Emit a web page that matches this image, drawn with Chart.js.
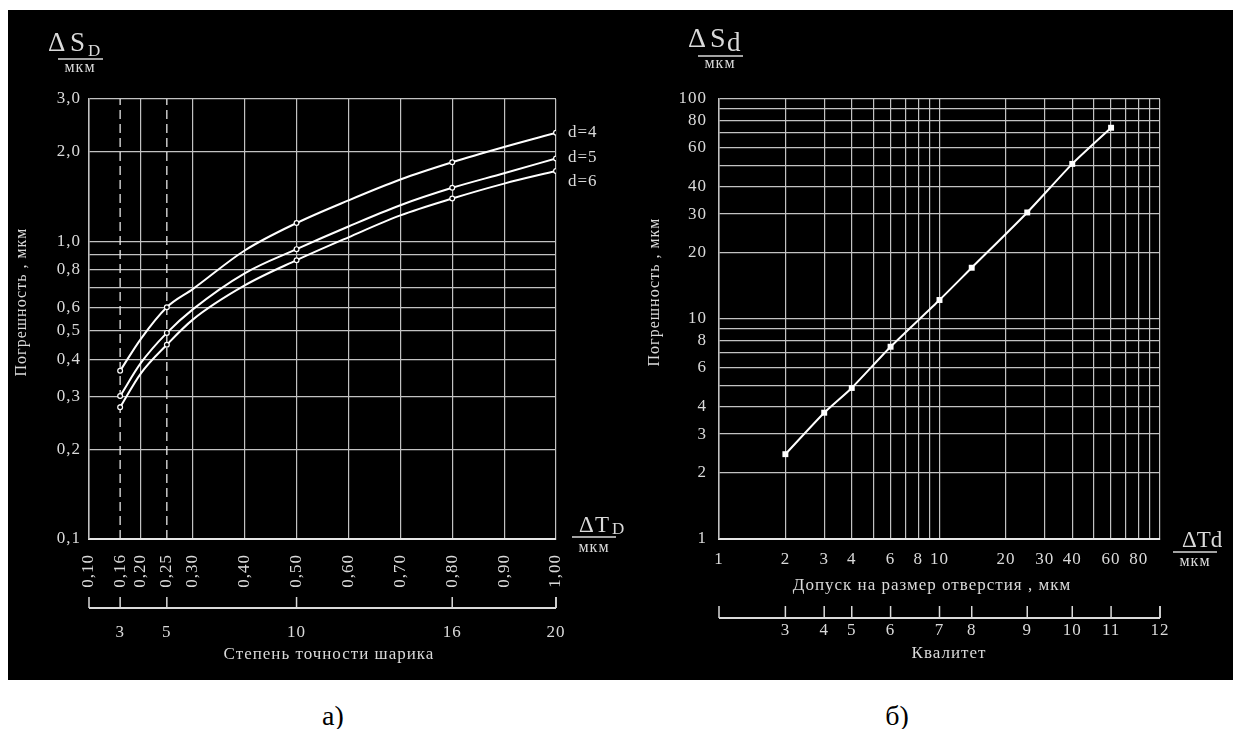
<!DOCTYPE html>
<html>
<head>
<meta charset="utf-8">
<script src="https://cdn.jsdelivr.net/npm/chart.js@4.4.1/dist/chart.umd.min.js"></script>
<style>
html, body { margin: 0; padding: 0; background: #fff; }
body { width: 1241px; height: 729px; position: relative; overflow: hidden; }
#panel { position: absolute; left: 8px; top: 10px; width: 1225px; height: 670px; background: #000; }
#cA { position: absolute; left: 8px; top: 10px; }
#cB { position: absolute; left: 620px; top: 10px; }
.cap { position: absolute; top: 700px; width: 60px; text-align: center; line-height: 28px;
       font: 28px 'Liberation Serif', serif; color: #000; }
</style>
</head>
<body>
<div id="panel"></div>
<canvas id="cA" width="650" height="670"></canvas>
<canvas id="cB" width="613" height="670"></canvas>
<div class="cap" style="left:303px">а)</div>
<div class="cap" style="left:867px">б)</div>
<script>
// --- chart а): error vs ball tolerance ---
const xD = [0.16, 0.20, 0.25, 0.30, 0.40, 0.50, 0.60, 0.70, 0.80, 0.90, 1.00];
const markD = [0.16, 0.25, 0.50, 0.80, 1.00];
const sD4 = [0.367, 0.47, 0.60, 0.69, 0.93, 1.15, 1.37, 1.61, 1.84, 2.07, 2.31];
const sD5 = [0.302, 0.39, 0.492, 0.59, 0.78, 0.94, 1.12, 1.32, 1.51, 1.69, 1.895];
const sD6 = [0.277, 0.36, 0.449, 0.545, 0.71, 0.863, 1.03, 1.22, 1.39, 1.56, 1.72];
const curveNames = ['d=4', 'd=5', 'd=6'];
const dashX = [0.16, 0.25];
const xTicksA = [0.10, 0.16, 0.20, 0.25, 0.30, 0.40, 0.50, 0.60, 0.70, 0.80, 0.90, 1.00];
const yTicksA = [0.1, 0.2, 0.3, 0.4, 0.5, 0.6, 0.7, 0.8, 0.9, 1, 2, 3];
const yLabelsA = [0.1, 0.2, 0.3, 0.4, 0.5, 0.6, 0.8, 1, 2, 3];
const ballGrade = [0.16, 0.25, 0.50, 0.80, 1.00];
const ballGradeLbl = ['3', '5', '10', '16', '20'];

// --- chart б): error vs hole tolerance ---
const tolHole = [2, 3, 4, 6, 10, 14, 25, 40, 60];
const errHole = [2.43, 3.75, 4.86, 7.48, 12.2, 17.1, 30.5, 50.7, 74];
const logTicksB = [1, 2, 3, 4, 5, 6, 7, 8, 9, 10, 20, 30, 40, 50, 60, 70, 80, 90, 100];
const yLabelsB = [1, 2, 3, 4, 6, 8, 10, 20, 30, 40, 60, 80, 100];
const xLabelsB = [1, 2, 3, 4, 6, 8, 10, 20, 30, 40, 60, 80];
const holeGrade = [2, 3, 4, 6, 10, 14, 25, 40, 60, 100];
const holeGradeLbl = ['3', '4', '5', '6', '7', '8', '9', '10', '11', '12'];

const INK = '#dadada';
const GRID = '#c2c2c2';
const FAM = "'Liberation Serif', serif";

function put(ctx, s, x, y, size, align = 'left', base = 'alphabetic', sp = 1) {
	ctx.font = size + 'px ' + FAM;
	ctx.letterSpacing = sp + 'px';
	ctx.textAlign = align;
	ctx.textBaseline = base;
	ctx.fillText(s, x, y);
}

function hline(ctx, x1, x2, y, w) {
	ctx.lineWidth = w;
	ctx.beginPath();
	ctx.moveTo(x1, y);
	ctx.lineTo(x2, y);
	ctx.stroke();
}

// bracket axis under the chart: line with ticks pointing up
function bracket(ctx, xs, lbls, left, right, y, tickTop, lblY) {
	hline(ctx, left, right, y, 2);
	ctx.lineWidth = 1.5;
	[left, ...xs, right].forEach(px => {
		ctx.beginPath();
		ctx.moveTo(px, y);
		ctx.lineTo(px, tickTop);
		ctx.stroke();
	});
	xs.forEach((px, i) => put(ctx, lbls[i], px, lblY, 17, 'center', 'middle'));
}

function vtitle(ctx, s, x, y) {
	ctx.save();
	ctx.translate(x, y);
	ctx.rotate(-Math.PI / 2);
	put(ctx, s, 0, 0, 16, 'center', 'middle');
	ctx.restore();
}

const near = (list, v) => list.some(t => Math.abs(t - v) < 1e-9);
const tickFont = {family: FAM, size: 17};

const decorA = {
	id: 'decorA',
	beforeDraw(chart) {
		chart.ctx.letterSpacing = '1px';
	},
	afterDraw(chart) {
		const {ctx, chartArea: a} = chart;
		const x = chart.scales.x, y = chart.scales.y;
		ctx.save();
		ctx.fillStyle = INK;
		ctx.strokeStyle = INK;

		// заголовок ΔS_D / мкм
		put(ctx, 'Δ', 40, 41, 27, 'left', 'alphabetic', 0);
		put(ctx, 'S', 62, 41, 27, 'left', 'alphabetic', 0);
		put(ctx, 'D', 80, 46, 17, 'left', 'alphabetic', 0);
		hline(ctx, 50, 95, 49, 1.5);
		put(ctx, 'мкм', 72, 62, 16, 'center');

		// ΔT_D / мкм
		put(ctx, 'Δ', 571, 522, 23, 'left', 'alphabetic', 0);
		put(ctx, 'T', 587, 522, 23, 'left', 'alphabetic', 0);
		put(ctx, 'D', 604, 524, 17, 'left', 'alphabetic', 0);
		hline(ctx, 564, 608, 527, 1.5);
		put(ctx, 'мкм', 586, 542, 16, 'center');

		// подписи кривых
		const lastVals = [sD4, sD5, sD6].map(s => s[s.length - 1]);
		const shift = [0, -1, 11];
		lastVals.forEach((v, i) => put(ctx, curveNames[i], a.right + 12, y.getPixelForValue(v) + shift[i], 17, 'left', 'middle'));

		bracket(ctx, ballGrade.map(v => x.getPixelForValue(v)), ballGradeLbl, a.left, a.right, 598, 587, 623);
		put(ctx, 'Степень точности шарика', 321, 645, 17, 'center', 'middle');
		vtitle(ctx, 'Погрешность , мкм', 14, 292);
		ctx.restore();
	}
};

const decorB = {
	id: 'decorB',
	beforeDraw(chart) {
		chart.ctx.letterSpacing = '1px';
	},
	afterDraw(chart) {
		const {ctx, chartArea: a} = chart;
		const x = chart.scales.x;
		ctx.save();
		ctx.fillStyle = INK;
		ctx.strokeStyle = INK;

		put(ctx, 'Δ', 68, 37, 28, 'left', 'alphabetic', 0);
		put(ctx, 'S', 90, 37, 28, 'left', 'alphabetic', 0);
		put(ctx, 'd', 107, 41, 27, 'left', 'alphabetic', 0);
		hline(ctx, 78, 123, 46, 1.5);
		put(ctx, 'мкм', 100, 58, 16, 'center');

		put(ctx, 'ΔTd', 562, 537, 23, 'left', 'alphabetic', 0);
		hline(ctx, 553, 597, 542, 1.5);
		put(ctx, 'мкм', 575, 556, 16, 'center');

		put(ctx, 'Допуск на размер отверстия , мкм', 312, 576, 17, 'center', 'middle');
		bracket(ctx, holeGrade.map(v => x.getPixelForValue(v)), holeGradeLbl, a.left, a.right, 608, 596, 621);
		put(ctx, 'Квалитет', 329, 644, 17, 'center', 'middle');
		vtitle(ctx, 'Погрешность , мкм', 35, 282);
		ctx.restore();
	}
};

function curve(vals) {
	return {
		data: xD.map((v, i) => ({x: v, y: vals[i]})),
		borderColor: '#ffffff',
		borderWidth: 2,
		cubicInterpolationMode: 'monotone',
		pointStyle: 'circle',
		pointRadius: ctx => near(markD, xD[ctx.dataIndex]) ? 2.4 : 0,
		pointBorderColor: '#ffffff',
		pointBorderWidth: 1.2,
		pointBackgroundColor: '#000000',
		order: 0
	};
}

new Chart(document.getElementById('cA'), {
	type: 'line',
	data: {
		datasets: [
			...dashX.map(v => ({
				data: [{x: v, y: 0.1}, {x: v, y: 3}],
				borderColor: '#e6e6e6',
				borderWidth: 1.3,
				borderDash: [9, 5],
				pointRadius: 0,
				order: 5
			})),
			curve(sD4), curve(sD5), curve(sD6)
		]
	},
	options: {
		responsive: false,
		animation: false,
		events: [],
		layout: {padding: {left: 0, right: 102, top: 89, bottom: 0}},
		plugins: {legend: {display: false}, tooltip: {enabled: false}},
		scales: {
			x: {
				type: 'linear', min: 0.1, max: 1.0,
				afterBuildTicks: s => { s.ticks = xTicksA.map(v => ({value: v})); },
				afterFit: s => { s.height = 141; },
				grid: {
					color: c => (c.tick && near(dashX, c.tick.value)) ? 'rgba(0,0,0,0)' : GRID,
					lineWidth: 1.2,
					drawTicks: false
				},
				border: {color: '#e6e6e6', width: 2},
				ticks: {
					autoSkip: false, minRotation: 90, maxRotation: 90, padding: 15,
					color: INK, font: tickFont,
					callback: v => v.toFixed(2).replace('.', ',')
				}
			},
			y: {
				type: 'logarithmic', min: 0.1, max: 3,
				afterBuildTicks: s => { s.ticks = yTicksA.map(v => ({value: v})); },
				afterFit: s => { s.width = 81; },
				grid: {color: GRID, lineWidth: 1.2, drawTicks: false},
				border: {color: GRID, width: 1.5},
				ticks: {
					padding: 8, color: INK, font: tickFont,
					callback: v => near(yLabelsA, v) ? v.toFixed(1).replace('.', ',') : ''
				}
			}
		}
	},
	plugins: [decorA]
});

new Chart(document.getElementById('cB'), {
	type: 'line',
	data: {
		datasets: [{
			data: tolHole.map((v, i) => ({x: v, y: errHole[i]})),
			borderColor: '#ffffff',
			borderWidth: 2,
			tension: 0.2,
			pointStyle: 'rect',
			pointRadius: 4.2,
			pointBorderWidth: 0,
			pointBackgroundColor: '#ffffff'
		}]
	},
	options: {
		responsive: false,
		animation: false,
		events: [],
		layout: {padding: {left: 0, right: 73, top: 89, bottom: 0}},
		plugins: {legend: {display: false}, tooltip: {enabled: false}},
		scales: {
			x: {
				type: 'logarithmic', min: 1, max: 100,
				afterBuildTicks: s => { s.ticks = logTicksB.map(v => ({value: v})); },
				afterFit: s => { s.height = 141; },
				grid: {color: GRID, lineWidth: 1.2, drawTicks: false},
				border: {color: '#e6e6e6', width: 2},
				ticks: {
					autoSkip: false, maxRotation: 0, padding: 10,
					color: INK, font: tickFont,
					callback: v => near(xLabelsB, v) ? String(v) : ''
				}
			},
			y: {
				type: 'logarithmic', min: 1, max: 100,
				afterBuildTicks: s => { s.ticks = logTicksB.map(v => ({value: v})); },
				afterFit: s => { s.width = 99; },
				grid: {color: GRID, lineWidth: 1.2, drawTicks: false},
				border: {color: GRID, width: 1.5},
				ticks: {
					padding: 12, color: INK, font: tickFont,
					callback: v => near(yLabelsB, v) ? String(v) : ''
				}
			}
		}
	},
	plugins: [decorB]
});
</script>
</body>
</html>
